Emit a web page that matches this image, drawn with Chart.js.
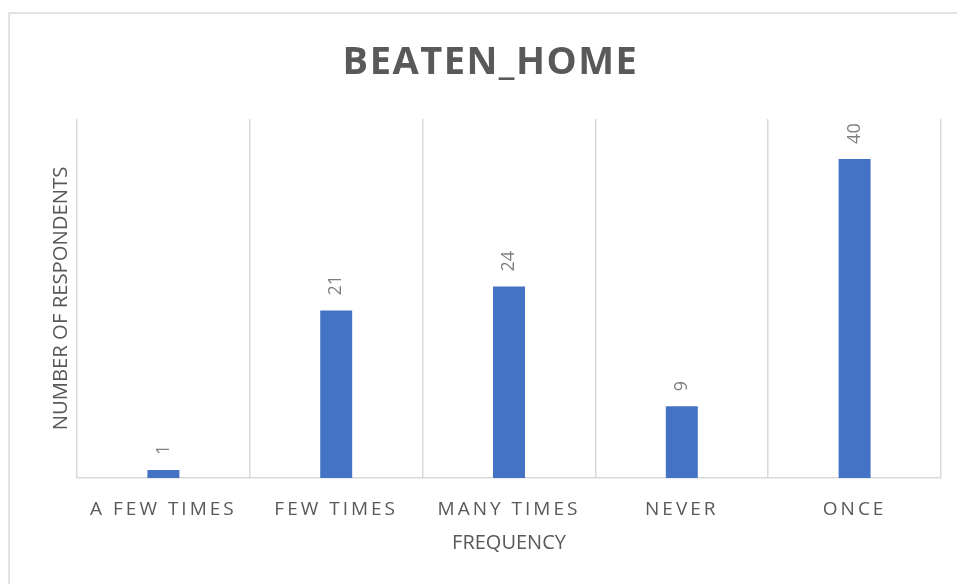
<!DOCTYPE html>
<html lang="en">
<head>
<meta charset="UTF-8">
<title>BEATEN_HOME</title>
<script src="https://cdn.jsdelivr.net/npm/chart.js"></script>
<style>
    html, body { margin: 0; padding: 0; background: #fff; }
    #wrap { width: 957px; height: 584px; position: relative; }
</style>
</head>
<body>
<div id="wrap"><canvas id="chart"></canvas></div>
<script>
    const categories = ["A FEW TIMES", "FEW TIMES", "MANY TIMES", "NEVER", "ONCE"];
    const respondents = [1, 21, 24, 9, 40];
    const chartTitle = "BEATEN_HOME";
    const xTitle = "FREQUENCY";
    const yTitle = "NUMBER OF RESPONDENTS";

    const grey = "#595959";
    const lineGrey = "#d9d9d9";

    // outer frame (top and left edges only are visible in the reference)
    const frame = {
        id: "frame",
        beforeDraw(chart) {
            const ctx = chart.ctx;
            ctx.save();
            ctx.fillStyle = "#fff";
            ctx.fillRect(0, 0, chart.width, chart.height);
            ctx.strokeStyle = lineGrey;
            ctx.lineWidth = 1.5;
            ctx.beginPath();
            ctx.moveTo(9, chart.height);
            ctx.lineTo(9, 13);
            ctx.lineTo(chart.width, 13);
            ctx.stroke();
            ctx.restore();
        }
    };

    // letter spacing for the title and the category labels
    const spacing = {
        id: "spacing",
        afterLayout(chart) {
            const sx = chart.scales.x;
            if (sx && !sx._spaced) {
                const orig = sx.drawLabels.bind(sx);
                sx.drawLabels = function (area) {
                    chart.ctx.save();
                    chart.ctx.letterSpacing = "3px";
                    orig(area);
                    chart.ctx.restore();
                };
                sx._spaced = true;
            }
            const tb = chart.titleBlock;
            if (tb && !tb._spaced) {
                const origT = tb.draw.bind(tb);
                tb.draw = function () {
                    chart.ctx.save();
                    chart.ctx.letterSpacing = "1.5px";
                    origT();
                    chart.ctx.restore();
                };
                tb._spaced = true;
            }
        }
    };

    // rotated value labels above each bar
    const valueLabels = {
        id: "valueLabels",
        afterDatasetsDraw(chart) {
            const ctx = chart.ctx;
            const meta = chart.getDatasetMeta(0);
            ctx.save();
            ctx.font = "18px 'Open Sans'";
            ctx.fillStyle = "#7f7f7f";
            ctx.textAlign = "left";
            ctx.textBaseline = "middle";
            meta.data.forEach((bar, i) => {
                ctx.save();
                ctx.translate(bar.x, bar.y - 15);
                ctx.rotate(-Math.PI / 2);
                ctx.fillText(String(chart.data.datasets[0].data[i]), 0, 0);
                ctx.restore();
            });
            ctx.restore();
        }
    };

    new Chart(document.getElementById("chart"), {
        type: "bar",
        data: {
            labels: categories,
            datasets: [{
                data: respondents,
                backgroundColor: "#4472c4",
                barPercentage: 0.185,
                categoryPercentage: 1
            }]
        },
        options: {
            responsive: true,
            maintainAspectRatio: false,
            animation: false,
            layout: { padding: { left: 40, right: 16, top: 0, bottom: 29 } },
            plugins: {
                legend: { display: false },
                tooltip: { enabled: false },
                title: {
                    display: true,
                    text: chartTitle,
                    color: grey,
                    font: { family: "'Open Sans'", size: 38, weight: "bold" },
                    padding: { top: 40.5, bottom: 32.9 }
                }
            },
            scales: {
                x: {
                    grid: { display: true, color: lineGrey, lineWidth: 1.5, drawTicks: false, offset: true },
                    border: { display: true, color: lineGrey, width: 1.5 },
                    ticks: { color: grey, font: { family: "'Open Sans'", size: 19 }, padding: 20, maxRotation: 0 },
                    title: {
                        display: true, text: xTitle, color: grey,
                        font: { family: "'Open Sans'", size: 20 },
                        padding: { top: 0, bottom: 0 }
                    },
                    afterFit(scale) { scale.height = 77; }
                },
                y: {
                    min: 0,
                    max: 45,
                    grid: { display: false, drawTicks: false },
                    border: { display: false },
                    ticks: { display: false },
                    title: {
                        display: true, text: yTitle, color: grey,
                        font: { family: "'Open Sans'", size: 20.3 },
                        padding: { top: 9, bottom: 4 }
                    },
                    afterFit(scale) { scale.width = 37; }
                }
            }
        },
        plugins: [frame, spacing, valueLabels]
    });
</script>
</body>
</html>
